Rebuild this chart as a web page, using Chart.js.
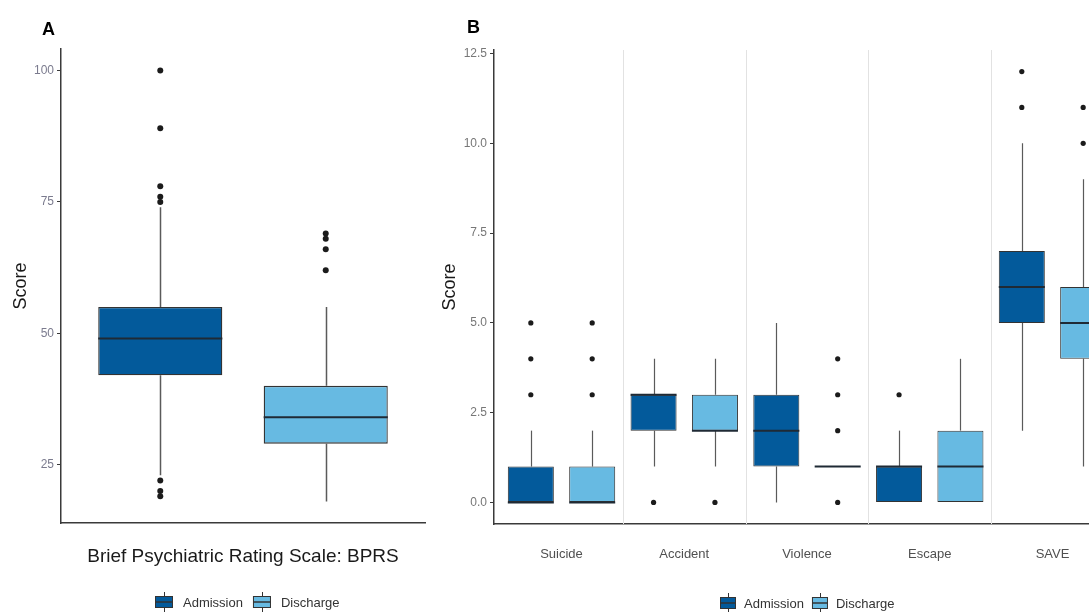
<!DOCTYPE html>
<html>
<head>
<meta charset="utf-8">
<script src="https://cdn.jsdelivr.net/npm/chart.js@4.4.0/dist/chart.umd.min.js"></script>
<style>
  html, body { margin: 0; padding: 0; background: #fff; overflow: hidden; width: 1089px; height: 612px; }
  #chartA { position: absolute; left: 0; top: 0; }
  #chartB { position: absolute; left: 430px; top: 0; }
</style>
</head>
<body>
<canvas id="chartA" width="440" height="612"></canvas>
<canvas id="chartB" width="720" height="612"></canvas>
<script>
// Panel A - BPRS
const bprsGroups = ['Admission', 'Discharge'];
const bprsQ1 = [42, 29];
const bprsMedian = [49, 34];
const bprsQ3 = [55, 40];
const bprsLow = [23, 18];
const bprsHigh = [74, 55];
const bprsOutliers = [[100, 89, 78, 76, 75, 22, 20, 19], [69, 68, 66, 62]];
const bprsTicks = [25, 50, 75, 100];

// Panel B - risk scores
const riskCats = ['Suicide', 'Accident', 'Violence', 'Escape', 'SAVE'];
const admQ1 = [0, 2, 1, 0, 5];
const admMedian = [0, 3, 2, 1, 6];
const admQ3 = [1, 3, 3, 1, 7];
const admLow = [0, 1, 0, 0, 2];
const admHigh = [2, 4, 5, 2, 10];
const admOutliers = [[3, 4, 5], [0], [], [3], [11, 12]];
const disQ1 = [0, 2, 1, 0, 4];
const disMedian = [0, 2, 1, 1, 5];
const disQ3 = [1, 3, 1, 2, 6];
const disLow = [0, 1, 1, 0, 1];
const disHigh = [2, 4, 1, 4, 9];
const disOutliers = [[3, 4, 5], [0], [0, 2, 3, 4], [], [10, 11]];
const riskTicks = [0, 2.5, 5, 7.5, 10, 12.5];

const COLORS = ['#035a9b', '#67bae2'];
const FONT = "'Liberation Sans', Arial, sans-serif";
const DODGE = 0.25; // half of a category slot, matches categoryPercentage 1

Chart.defaults.font.family = FONT;

function drawLegend(ctx, x0, yc, w, h, gap) {
  let x = x0;
  ctx.save();
  ctx.font = '13px ' + FONT;
  ctx.textBaseline = 'middle';
  bprsGroups.forEach((g, i) => {
    const cx = Math.round(x + w / 2) + 0.5;
    ctx.strokeStyle = '#333';
    ctx.lineWidth = 1;
    ctx.beginPath();
    ctx.moveTo(cx, yc - h / 2 - 4);
    ctx.lineTo(cx, yc + h / 2 + 4);
    ctx.stroke();
    ctx.fillStyle = COLORS[i];
    ctx.fillRect(x, yc - h / 2, w, h);
    ctx.strokeRect(x + 0.5, yc - h / 2 + 0.5, w - 1, h - 1);
    ctx.lineWidth = 1.5;
    ctx.beginPath();
    ctx.moveTo(x, yc);
    ctx.lineTo(x + w, yc);
    ctx.stroke();
    ctx.fillStyle = '#333';
    ctx.fillText(g, x + w + gap, yc + 1);
    x += w + gap + ctx.measureText(g).width + gap;
  });
  ctx.restore();
}

// whiskers, medians, separators, legend and panel letter
const boxPlugin = {
  id: 'boxParts',
  beforeDatasetsDraw(chart, args, opts) {
    const { ctx, chartArea, scales } = chart;
    ctx.save();
    ctx.strokeStyle = '#e2e2e2';
    ctx.lineWidth = 1;
    (opts.separators || []).forEach(v => {
      const x = Math.round(scales.x.getPixelForValue(v)) + 0.5;
      ctx.beginPath();
      ctx.moveTo(x, chartArea.top);
      ctx.lineTo(x, chartArea.bottom);
      ctx.stroke();
    });
    ctx.strokeStyle = '#5a5a5a';
    ctx.lineWidth = opts.whiskerWidth;
    chart.data.datasets.forEach((ds, di) => {
      if (!ds.stats) return;
      chart.getDatasetMeta(di).data.forEach((bar, i) => {
        const y = scales.y;
        const x = Math.round(bar.x) + 0.5;
        ctx.beginPath();
        ctx.moveTo(x, y.getPixelForValue(ds.data[i].y[1]));
        ctx.lineTo(x, y.getPixelForValue(ds.stats.high[i]));
        ctx.moveTo(x, y.getPixelForValue(ds.data[i].y[0]));
        ctx.lineTo(x, y.getPixelForValue(ds.stats.low[i]));
        ctx.stroke();
      });
    });
    ctx.restore();
  },
  afterDatasetsDraw(chart, args, opts) {
    const { ctx, scales } = chart;
    ctx.save();
    ctx.strokeStyle = '#1f2a35';
    ctx.lineWidth = 2;
    chart.data.datasets.forEach((ds, di) => {
      if (!ds.stats) return;
      chart.getDatasetMeta(di).data.forEach((bar, i) => {
        const y = scales.y.getPixelForValue(ds.stats.median[i]);
        ctx.beginPath();
        ctx.moveTo(bar.x - bar.width / 2, y);
        ctx.lineTo(bar.x + bar.width / 2, y);
        ctx.stroke();
      });
    });
    ctx.restore();
  },
  afterDraw(chart, args, opts) {
    const ctx = chart.ctx;
    const lg = opts.legend;
    drawLegend(ctx, lg.x, lg.y, lg.w, lg.h, lg.gap);
    ctx.save();
    ctx.font = 'bold 18px ' + FONT;
    ctx.fillStyle = '#000';
    ctx.fillText(opts.letter.text, opts.letter.x, opts.letter.y);
    ctx.restore();
  }
};

function outlierPoints(lists, offset) {
  const pts = [];
  lists.forEach((arr, i) => arr.forEach(v => pts.push({ x: i + offset, y: v })));
  return pts;
}

// ---- Panel A ----
new Chart(document.getElementById('chartA'), {
  type: 'bar',
  data: {
    datasets: [{
      type: 'bar',
      data: bprsGroups.map((g, i) => ({ x: i, y: [bprsQ1[i], bprsQ3[i]] })),
      backgroundColor: COLORS,
      borderColor: '#333',
      borderWidth: 1.3,
      borderSkipped: false,
      categoryPercentage: 1,
      barPercentage: 0.75,
      stats: { median: bprsMedian, low: bprsLow, high: bprsHigh }
    }, {
      type: 'scatter',
      data: outlierPoints(bprsOutliers, 0),
      pointRadius: 3,
      pointBackgroundColor: '#1b1b1b',
      pointBorderWidth: 0
    }]
  },
  options: {
    responsive: false,
    animation: false,
    devicePixelRatio: 1,
    layout: { padding: { top: 49, left: 0, right: 15, bottom: 0 } },
    plugins: {
      legend: { display: false },
      tooltip: { enabled: false },
      boxParts: {
        whiskerWidth: 1.5,
        legend: { x: 155, y: 602, w: 18, h: 12, gap: 10 },
        letter: { text: 'A', x: 42, y: 35 }
      }
    },
    scales: {
      x: {
        type: 'linear', min: -0.6, max: 1.6, offset: false,
        afterBuildTicks(s) { s.ticks = bprsGroups.map((g, i) => ({ value: i })); },
        grid: { display: false, drawTicks: false },
        border: { color: '#3a3a3a', width: 1.5 },
        ticks: { display: false },
        title: { display: true, text: 'Brief Psychiatric Rating Scale: BPRS', font: { size: 19 }, color: '#1a1a1a', padding: { top: 43.6, bottom: 43.6 } },
        afterFit(s) { s.height = 89; }
      },
      y: {
        min: 13.9, max: 104.1, beginAtZero: false,
        afterBuildTicks(s) { s.ticks = bprsTicks.map(v => ({ value: v })); },
        ticks: { color: '#7b7b8e', font: { size: 12 }, padding: 3 },
        grid: { drawOnChartArea: false, tickLength: 4, color: '#3a3a3a' },
        border: { color: '#3a3a3a', width: 1.5 },
        title: { display: true, text: 'Score', font: { size: 18 }, color: '#1a1a1a', padding: { top: 10.2, bottom: 10.2 } },
        afterFit(s) { s.width = 61; }
      }
    }
  },
  plugins: [boxPlugin]
});

// ---- Panel B ----
new Chart(document.getElementById('chartB'), {
  type: 'bar',
  data: {
    datasets: [{
      type: 'bar',
      label: bprsGroups[0],
      data: riskCats.map((c, i) => ({ x: i, y: [admQ1[i], admQ3[i]] })),
      backgroundColor: COLORS[0],
      borderColor: '#333',
      borderWidth: 1,
      borderSkipped: false,
      categoryPercentage: 1,
      barPercentage: 0.75,
      stats: { median: admMedian, low: admLow, high: admHigh }
    }, {
      type: 'bar',
      label: bprsGroups[1],
      data: riskCats.map((c, i) => ({ x: i, y: [disQ1[i], disQ3[i]] })),
      backgroundColor: COLORS[1],
      borderColor: '#333',
      borderWidth: 1,
      borderSkipped: false,
      categoryPercentage: 1,
      barPercentage: 0.75,
      stats: { median: disMedian, low: disLow, high: disHigh }
    }, {
      type: 'scatter',
      data: outlierPoints(admOutliers, -DODGE),
      pointRadius: 2.6,
      pointBackgroundColor: '#1b1b1b',
      pointBorderWidth: 0
    }, {
      type: 'scatter',
      data: outlierPoints(disOutliers, DODGE),
      pointRadius: 2.6,
      pointBackgroundColor: '#1b1b1b',
      pointBorderWidth: 0
    }]
  },
  options: {
    responsive: false,
    animation: false,
    devicePixelRatio: 1,
    layout: { padding: { top: 50, left: 0, right: 30, bottom: 0 } },
    plugins: {
      legend: { display: false },
      tooltip: { enabled: false },
      boxParts: {
        whiskerWidth: 1.2,
        separators: [0.5, 1.5, 2.5, 3.5],
        legend: { x: 290, y: 603, w: 16, h: 12, gap: 8 },
        letter: { text: 'B', x: 37, y: 33 }
      }
    },
    scales: {
      x: {
        type: 'linear', min: -0.55, max: 4.55, offset: false,
        afterBuildTicks(s) { s.ticks = riskCats.map((c, i) => ({ value: i })); },
        grid: { display: false, drawTicks: false },
        border: { color: '#3a3a3a', width: 1.5 },
        ticks: { color: '#505050', font: { size: 13 }, padding: 23, maxRotation: 0, autoSkip: false, callback: v => riskCats[v] },
        afterFit(s) { s.height = 88; }
      },
      y: {
        min: -0.6, max: 12.6, beginAtZero: false,
        afterBuildTicks(s) { s.ticks = riskTicks.map(v => ({ value: v })); },
        ticks: { color: '#777', font: { size: 12 }, padding: 3, callback: v => v.toFixed(1) },
        grid: { drawOnChartArea: false, tickLength: 4, color: '#3a3a3a' },
        border: { color: '#3a3a3a', width: 1.5 },
        title: { display: true, text: 'Score', font: { size: 18 }, color: '#1a1a1a', padding: { top: 9.2, bottom: 9.2 } },
        afterFit(s) { s.width = 64; }
      }
    }
  },
  plugins: [boxPlugin]
});
</script>
</body>
</html>
